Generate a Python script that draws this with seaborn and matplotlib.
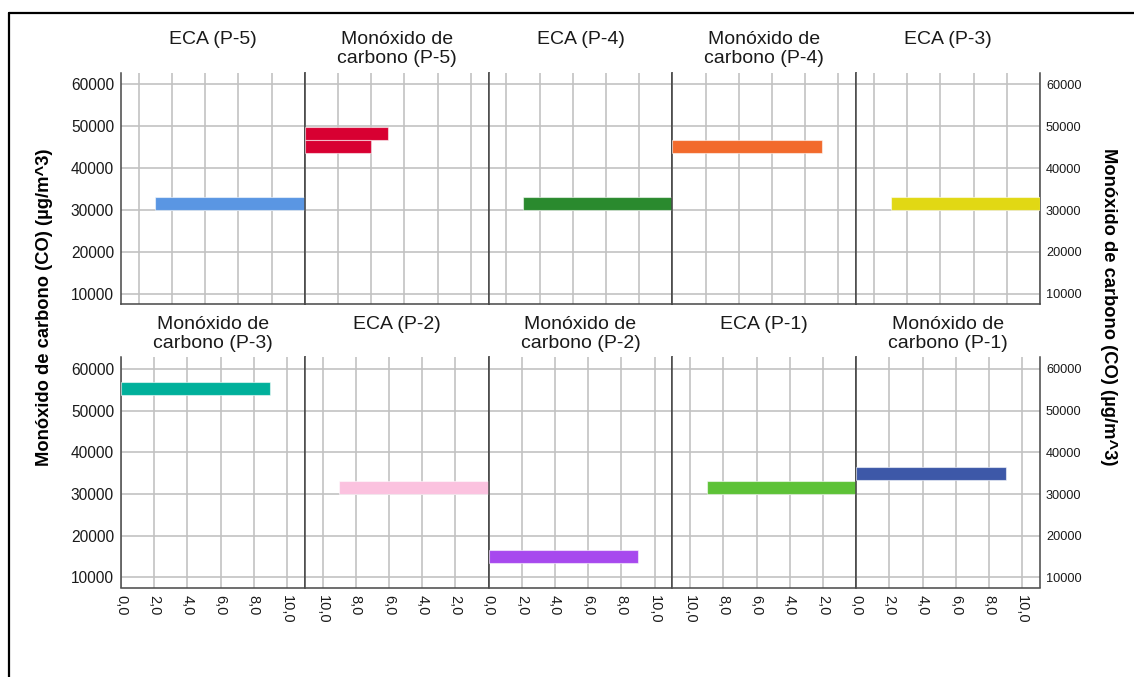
import numpy as np
import pandas as pd
import matplotlib
matplotlib.use("Agg")
import matplotlib.pyplot as plt
import seaborn as sns
from matplotlib.lines import Line2D

# Panel titles, left to right, top row then bottom row
panel_titles = [
    "ECA (P-5)", "Monóxido de\ncarbono (P-5)", "ECA (P-4)", "Monóxido de\ncarbono (P-4)", "ECA (P-3)",
    "Monóxido de\ncarbono (P-3)", "ECA (P-2)", "Monóxido de\ncarbono (P-2)", "ECA (P-1)", "Monóxido de\ncarbono (P-1)",
]
# Bin centres of CO concentration (µg/m^3) and their frequencies per panel
co_bins = [
    [31550], [48270, 45075], [31550], [45075], [31550],
    [55330], [31550], [15100], [31550], [34920],
]
frequencies = [
    [9], [5, 4], [9], [9], [9],
    [9], [9], [9], [9], [9],
]
bar_colors = [
    "#5A96E3", "#D80032", "#2A8A2E", "#F26A2C", "#E1D814",
    "#00B09B", "#FBC2DF", "#A749EE", "#5DC237", "#3D58A8",
]
y_ticks = [10000, 20000, 30000, 40000, 50000, 60000]
x_ticks = [0, 2, 4, 6, 8, 10]
x_tick_labels = ["0,0", "2,0", "4,0", "6,0", "8,0", "10,0"]
axis_title = "Monóxido de carbono (CO) (µg/m^3)"

sns.set_theme(style="white")
plt.rcParams["font.family"] = ["Liberation Sans", "DejaVu Sans"]

W, H = 1134, 677
fig = plt.figure(figsize=(W / 100, H / 100), dpi=100)


def fx(px):
    return px / W


def fy(py):
    return 1 - py / H


LEFT, RIGHT = 121.0, 1040.0
ROWS = [(72.5, 304.0), (357.3, 587.5)]
COL_W = (RIGHT - LEFT) / 5
XMAX = 11.07
YLIM = (7600, 62800)
BAR_H = 3100
GRID = "#c2c2c2"
SPINE = "#474747"
TEXT = "#1a1a1a"

for i, title in enumerate(panel_titles):
    r, c = divmod(i, 5)
    top, bottom = ROWS[r]
    ax = fig.add_axes([fx(LEFT + c * COL_W), fy(bottom), COL_W / W, (bottom - top) / H])
    df = pd.DataFrame({"co": co_bins[i], "n": frequencies[i]})
    for _, row in df.iterrows():
        sns.barplot(
            x=[row["n"]], y=[row["co"]], orient="y", native_scale=True,
            width=BAR_H, color=bar_colors[i], saturation=1, errorbar=None,
            edgecolor=(1, 1, 1, 0.55), linewidth=0.8, ax=ax, zorder=3,
        )
    reversed_axis = title.startswith("ECA")
    ax.set_xlim((XMAX, 0) if reversed_axis else (0, XMAX))
    ax.set_ylim(YLIM)
    ax.set_xticks(x_ticks)
    ax.set_yticks(y_ticks)
    ax.set_xlabel("")
    ax.set_ylabel("")
    ax.set_axisbelow(True)
    ax.grid(True, color=GRID, lw=1.2)
    for side in ("left", "right", "bottom"):
        ax.spines[side].set_visible(True)
        ax.spines[side].set_color(SPINE)
        ax.spines[side].set_linewidth(1.1)
    ax.spines["top"].set_visible(False)
    ax.tick_params(length=0)

    if r == 1:
        labels = list(x_tick_labels)
        if reversed_axis:
            # the zero shares its position with the neighbouring panel's zero
            labels[0] = ""
        ax.set_xticklabels(labels, rotation=270, fontsize=10.5, color=TEXT)
        ax.tick_params(axis="x", pad=5.4)
    else:
        ax.set_xticklabels([])
    if c == 0:
        ax.set_yticklabels([str(v) for v in y_ticks], fontsize=11.2, color=TEXT)
        ax.tick_params(axis="y", pad=5)
    elif c == 4:
        ax.tick_params(axis="y", labelleft=False, labelright=True, labelsize=9.2,
                       labelcolor=TEXT, pad=4.3)
    else:
        ax.set_yticklabels([])

    # panel title, one text per line
    cx = fx(LEFT + (c + 0.5) * COL_W)
    base = 44.0 + r * 284.7
    for k, line in enumerate(title.split("\n")):
        fig.text(cx, fy(base + k * 19.3), line, ha="center", va="baseline",
                 fontsize=14, color=TEXT)

# shared axis titles
fig.text(fx(45), fy(307), axis_title, rotation=90, ha="center", va="center",
         fontsize=13.2, fontweight="bold", color="black")
fig.text(fx(1109), fy(307), axis_title, rotation=270, ha="center", va="center",
         fontsize=13.2, fontweight="bold", color="black")

# outer frame
fig.add_artist(Line2D([fx(9), 1.0], [fy(13), fy(13)], color="black", lw=1.6))
fig.add_artist(Line2D([fx(9), fx(9)], [fy(13), 0.0], color="black", lw=1.6))

fig.savefig("out.png", dpi=100, facecolor="white")
